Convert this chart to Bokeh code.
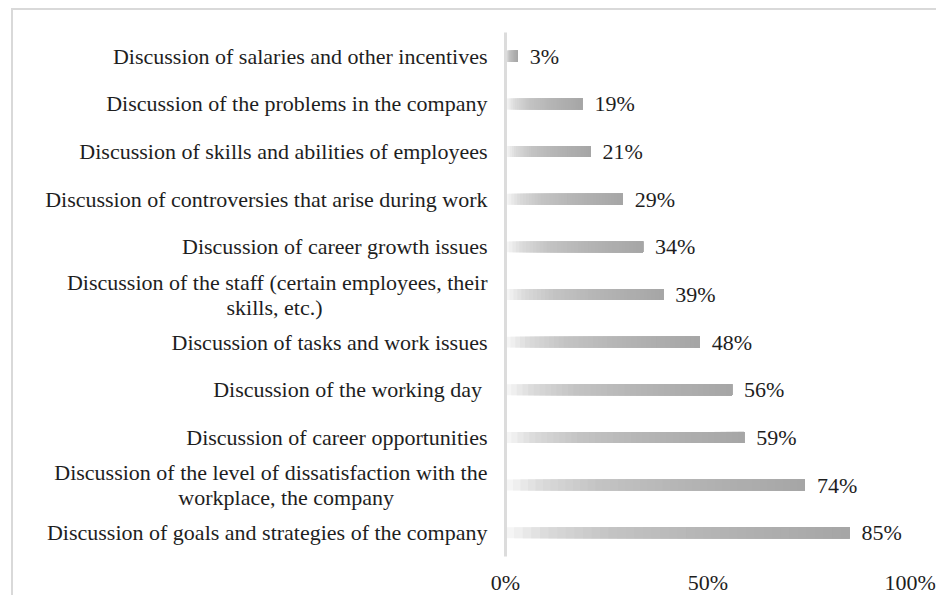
from bokeh.plotting import figure
from bokeh.models import Range1d, FixedTicker, ColumnDataSource
from bokeh.embed import file_html
from bokeh.resources import INLINE
from bokeh.core.properties import value

# Data (listed top-to-bottom as in the chart)
labels_top_down = [
    "Discussion of salaries and other incentives",
    "Discussion of the problems in the company",
    "Discussion of skills and abilities of employees",
    "Discussion of controversies that arise during work",
    "Discussion of career growth issues",
    "Discussion of the staff (certain employees, their\nskills, etc.)",
    "Discussion of tasks and work issues",
    "Discussion of the working day ",
    "Discussion of career opportunities",
    "Discussion of the level of dissatisfaction with the\nworkplace, the company",
    "Discussion of goals and strategies of the company",
]
values_top_down = [3, 19, 21, 29, 34, 39, 48, 56, 59, 74, 85]
x_ticks = [0, 50, 100]
x_tick_labels = ["0%", "50%", "100%"]

categories = list(reversed(labels_top_down))
values = list(reversed(values_top_down))
ypos = [i + 0.5 for i in range(len(categories))]   # band centres on the y scale

FONT = "Liberation Serif"
TEXT_COLOR = "#1e1e1e"
FS = "22px"

p = figure(width=925, height=587,
           y_range=Range1d(0, len(categories)),
           x_range=Range1d(0, 107),
           output_backend="svg", toolbar_location=None,
           min_border_left=492, min_border_right=0,
           min_border_top=22, min_border_bottom=40)
p.styles = {"border-left": "2px solid #d9d9d9", "border-top": "2px solid #d9d9d9",
            "margin-left": "11px", "margin-top": "8px"}
p.outline_line_color = None
p.xgrid.visible = False
p.ygrid.visible = False
p.background_fill_color = "white"
p.border_fill_color = "white"

# gradient bars emulated with overlapping slices (style only)
stops = [(0.0, 248), (0.12, 218), (0.3, 196), (0.6, 180), (1.0, 166)]
def gray(t):
    for (t0, g0), (t1, g1) in zip(stops[:-1], stops[1:]):
        if t <= t1:
            g = g0 + (g1 - g0) * (t - t0) / (t1 - t0)
            break
    g = int(round(g))
    return "#%02x%02x%02x" % (g, g, g)

N = 40
lefts, rights, ys, colors = [], [], [], []
for i in range(N):
    for y, v in zip(ypos, values):
        lefts.append(v * i / N)
        rights.append(v)
        ys.append(y)
        colors.append(gray((i + 0.5) / N))
src = ColumnDataSource(dict(left=lefts, right=rights, y=ys, color=colors))
p.hbar(y="y", left="left", right="right", height=0.23, fill_color="color",
       line_color=None, source=src)

lab = ColumnDataSource(dict(x=values, y=ypos, t=["%d%%" % v for v in values]))
p.text(x="x", y="y", text="t", source=lab, x_offset=12, text_baseline="middle",
       text_align="left", text_font=value(FONT), text_font_size=FS,
       text_color=TEXT_COLOR)

# y axis: category names as tick labels; the second line of a two-line
# name is shifted left with no-break spaces so it sits centred under the first
NBSP = "\u00a0"
pad = {5: 30, 1: 17}   # index in `categories` -> number of trailing no-break spaces
def display(i, c):
    if "\n" in c:
        a, b = c.split("\n")
        return a + "\n" + b + NBSP * pad.get(i, 0)
    return c

yax = p.yaxis[0]
yax.ticker = FixedTicker(ticks=ypos, minor_ticks=[])
yax.major_label_overrides = {y: display(i, c) for i, (y, c) in enumerate(zip(ypos, categories))}
yax.axis_line_color = "#dcdcdc"
yax.axis_line_width = 3
yax.major_tick_line_color = None
yax.minor_tick_line_color = None
yax.major_tick_out = 0
yax.major_label_standoff = 18
yax.major_label_text_font = FONT
yax.major_label_text_font_size = FS
yax.major_label_text_color = TEXT_COLOR
yax.major_label_text_line_height = 1.0

xax = p.xaxis[0]
xax.ticker = FixedTicker(ticks=x_ticks, minor_ticks=[])
xax.major_label_overrides = {t: l for t, l in zip(x_ticks, x_tick_labels)}
xax.axis_line_color = None
xax.major_tick_line_color = None
xax.minor_tick_line_color = None
xax.major_tick_out = 0
xax.major_label_standoff = 13
xax.major_label_text_font = FONT
xax.major_label_text_font_size = FS
xax.major_label_text_color = TEXT_COLOR

open("out.html", "w").write(file_html(p, INLINE))
